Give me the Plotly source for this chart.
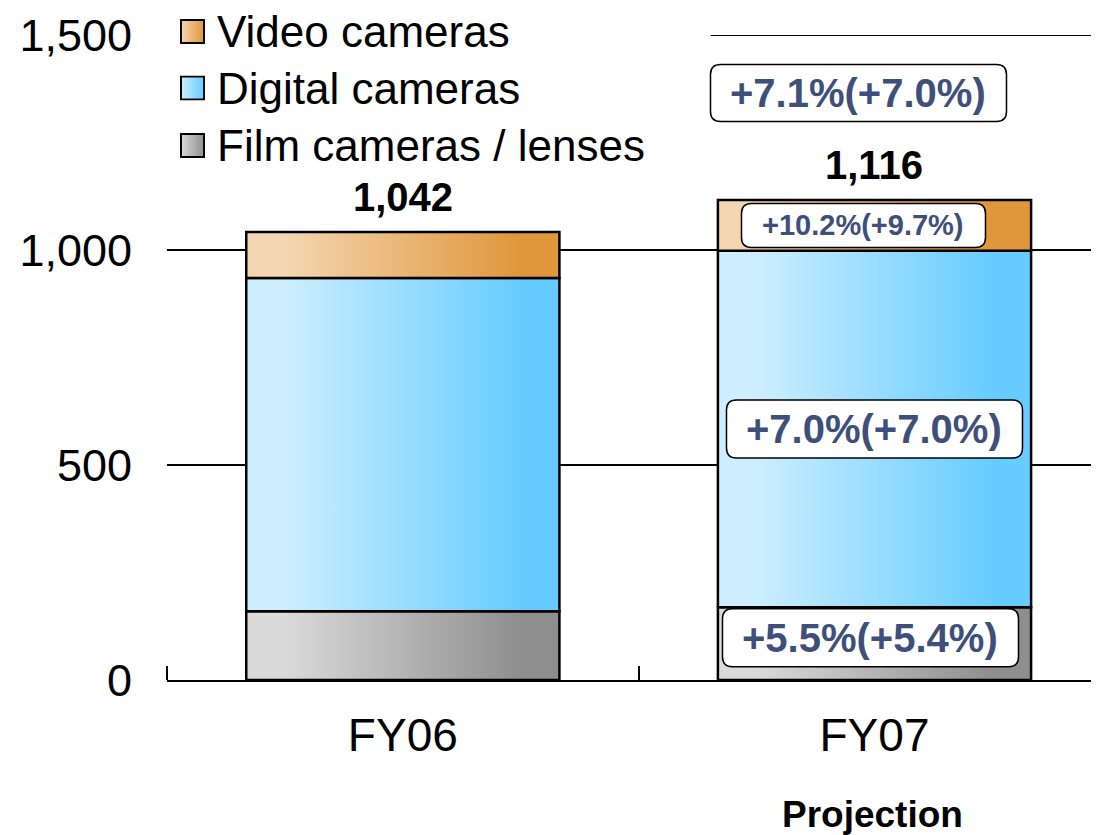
import base64
import plotly.graph_objects as go

# ---------------- data ----------------
categories = ["FY06", "FY07"]
film_values = [160, 169]
digital_values = [775, 829]
video_values = [107, 118]
series_names = ["Film cameras / lenses", "Digital cameras", "Video cameras"]
y_ticks = [0, 500, 1000, 1500]

growth_total = "+7.1%(+7.0%)"
growth_video = "+10.2%(+9.7%)"
growth_digital = "+7.0%(+7.0%)"
growth_film = "+5.5%(+5.4%)"
projection_label = "Projection"

# ---------------- styles ----------------
FONT = "Liberation Sans, Arial, sans-serif"
LABEL_COLOR = "#3e4f7b"
gradients = {
    "Film cameras / lenses": ("#dadada", "#8e8e8e"),
    "Digital cameras": ("#cdeeff", "#66ccff"),
    "Video cameras": ("#f5d6b2", "#e0963a"),
}
BAR_WIDTH = 0.664

# page has an 8px body margin; compensate so the plot area sits where intended
BODY = 8
FIG_W, FIG_H = 1099 - BODY, 835 - BODY
M_L, M_R, M_T, M_B = 167 - BODY, 0, 35 - BODY, 155
X_RANGE = [-0.5, 1.476]
Y_RANGE = [0, 1500]
PX_PER_X = (FIG_W - M_L - M_R) / (X_RANGE[1] - X_RANGE[0])
PX_PER_Y = (FIG_H - M_T - M_B) / (Y_RANGE[1] - Y_RANGE[0])

series_values = [film_values, digital_values, video_values]
totals = [sum(v) for v in zip(*series_values)]

fig = go.Figure()

# stacked bars drawn as filled polygons (to get horizontal gradients)
for i, cat in enumerate(categories):
    base = 0
    for name, vals in zip(series_names, series_values):
        v = vals[i]
        x0, x1 = i - BAR_WIDTH / 2, i + BAR_WIDTH / 2
        light, dark = gradients[name]
        fig.add_trace(go.Scatter(
            x=[x0, x1, x1, x0, x0],
            y=[base, base, base + v, base + v, base],
            mode="lines",
            fill="toself",
            fillgradient=dict(type="horizontal",
                              colorscale=[[0, light], [0.12, light], [0.88, dark], [1, dark]]),
            line=dict(color="black", width=2.5),
            name=name,
            showlegend=False,
            hoverinfo="text",
            text=f"{cat} {name}: {v}",
        ))
        base += v

# totals on top of bars
for i, t in enumerate(totals):
    fig.add_annotation(x=i, y=t, text=f"<b>{t:,}</b>", showarrow=False,
                       yanchor="bottom", yshift=11,
                       font=dict(family=FONT, size=40, color="black"))

# growth labels in rounded boxes
def rounded_path(cx, cy, w_px, h_px, r_px):
    hw, hh = w_px / 2 / PX_PER_X, h_px / 2 / PX_PER_Y
    rx, ry = r_px / PX_PER_X, r_px / PX_PER_Y
    x0, x1, y0, y1 = cx - hw, cx + hw, cy - hh, cy + hh
    return (f"M{x0 + rx},{y0} L{x1 - rx},{y0} Q{x1},{y0} {x1},{y0 + ry} "
            f"L{x1},{y1 - ry} Q{x1},{y1} {x1 - rx},{y1} "
            f"L{x0 + rx},{y1} Q{x0},{y1} {x0},{y1 - ry} "
            f"L{x0},{y0 + ry} Q{x0},{y0} {x0 + rx},{y0} Z")

def box(text, y, xshift, size, w, h, yshift=0):
    cx = 1 + xshift / PX_PER_X
    cy = y + yshift / PX_PER_Y
    fig.add_shape(type="path", xref="x", yref="y", path=rounded_path(cx, cy, w, h, 10),
                  fillcolor="white", line=dict(color="black", width=1.5), layer="above")
    fig.add_annotation(x=cx, y=cy, text=f"<b>{text}</b>", showarrow=False,
                       font=dict(family=FONT, size=size, color=LABEL_COLOR),
                       align="center", valign="middle")

box(growth_total, 1365, -16, 40, 296, 57)
box(growth_video, digital_values[1] + film_values[1] + video_values[1] / 2, -11, 29, 244, 44)
box(growth_digital, film_values[1] + digital_values[1] / 2, 0, 40, 296, 58)
box(growth_film, film_values[1] / 2, -4, 40, 296, 58, yshift=6)

# Projection label
fig.add_annotation(x=1, y=-0.209, yref="paper", text=f"<b>{projection_label}</b>",
                   showarrow=False, yanchor="middle", xshift=-2,
                   font=dict(family=FONT, size=37, color="black"))

# top gridline (1,500) visible only to the right of the legend
fig.add_shape(type="line", xref="paper", yref="y", x0=0.583, x1=1, y0=1500, y1=1500,
              line=dict(color="black", width=2), layer="below")
# white band hiding any top gridline behind the legend area
for xa, xb in [(0, 0.0137), (0.041, 0.583)]:
    fig.add_shape(type="rect", xref="paper", yref="paper", x0=xa, x1=xb, y0=0.994, y1=1.006,
                  fillcolor="white", line=dict(width=0), layer="above")

# manual legend (top-left), order: Video, Digital, Film
def grad_svg(light, dark):
    svg = (
        '<svg xmlns="http://www.w3.org/2000/svg" width="100" height="100" '
        'viewBox="0 0 100 100" preserveAspectRatio="none">'
        '<defs><linearGradient id="g" x1="0" x2="1" y1="0" y2="0">'
        f'<stop offset="0" stop-color="{light}"/><stop offset="1" stop-color="{dark}"/>'
        '</linearGradient></defs>'
        '<rect x="4" y="4" width="92" height="92" fill="url(#g)" stroke="black" stroke-width="8"/>'
        '</svg>'
    )
    return "data:image/svg+xml;base64," + base64.b64encode(svg.encode()).decode()

legend_order = ["Video cameras", "Digital cameras", "Film cameras / lenses"]
legend_y_top = [1.0248, 0.9372, 0.8481]
sq_h = 0.0388
for name, ytop in zip(legend_order, legend_y_top):
    light, dark = gradients[name]
    fig.add_layout_image(source=grad_svg(light, dark), xref="paper", yref="paper",
                         x=0.0139, y=ytop, sizex=0.027, sizey=sq_h,
                         xanchor="left", yanchor="top", sizing="stretch", layer="above")
    fig.add_annotation(x=0.051, y=ytop - sq_h / 2, xref="paper", yref="paper",
                       text=name, showarrow=False, xanchor="left", yanchor="middle",
                       font=dict(family=FONT, size=44, color="black"))

fig.update_layout(
    width=FIG_W, height=FIG_H,
    margin=dict(l=M_L, r=M_R, t=M_T, b=M_B),
    paper_bgcolor="white", plot_bgcolor="white",
    showlegend=False,
    xaxis=dict(range=X_RANGE, tickvals=[0, 1], ticktext=categories,
               showgrid=False, zeroline=False, showline=True, linecolor="black", linewidth=2,
               ticks="", ticklabelstandoff=14,
               tickfont=dict(family=FONT, size=46, color="black"),
               minor=dict(tickvals=[-0.5, 0.5, 1.5], ticks="inside", ticklen=14,
                          tickcolor="black", tickwidth=2, showgrid=False)),
    yaxis=dict(range=Y_RANGE, tickvals=y_ticks, tickformat=",",
               showgrid=True, gridcolor="black", gridwidth=1.5, zeroline=False,
               showline=False, ticks="", ticklabelstandoff=34,
               tickfont=dict(family=FONT, size=45, color="black")),
)

fig.write_html("out.html")
